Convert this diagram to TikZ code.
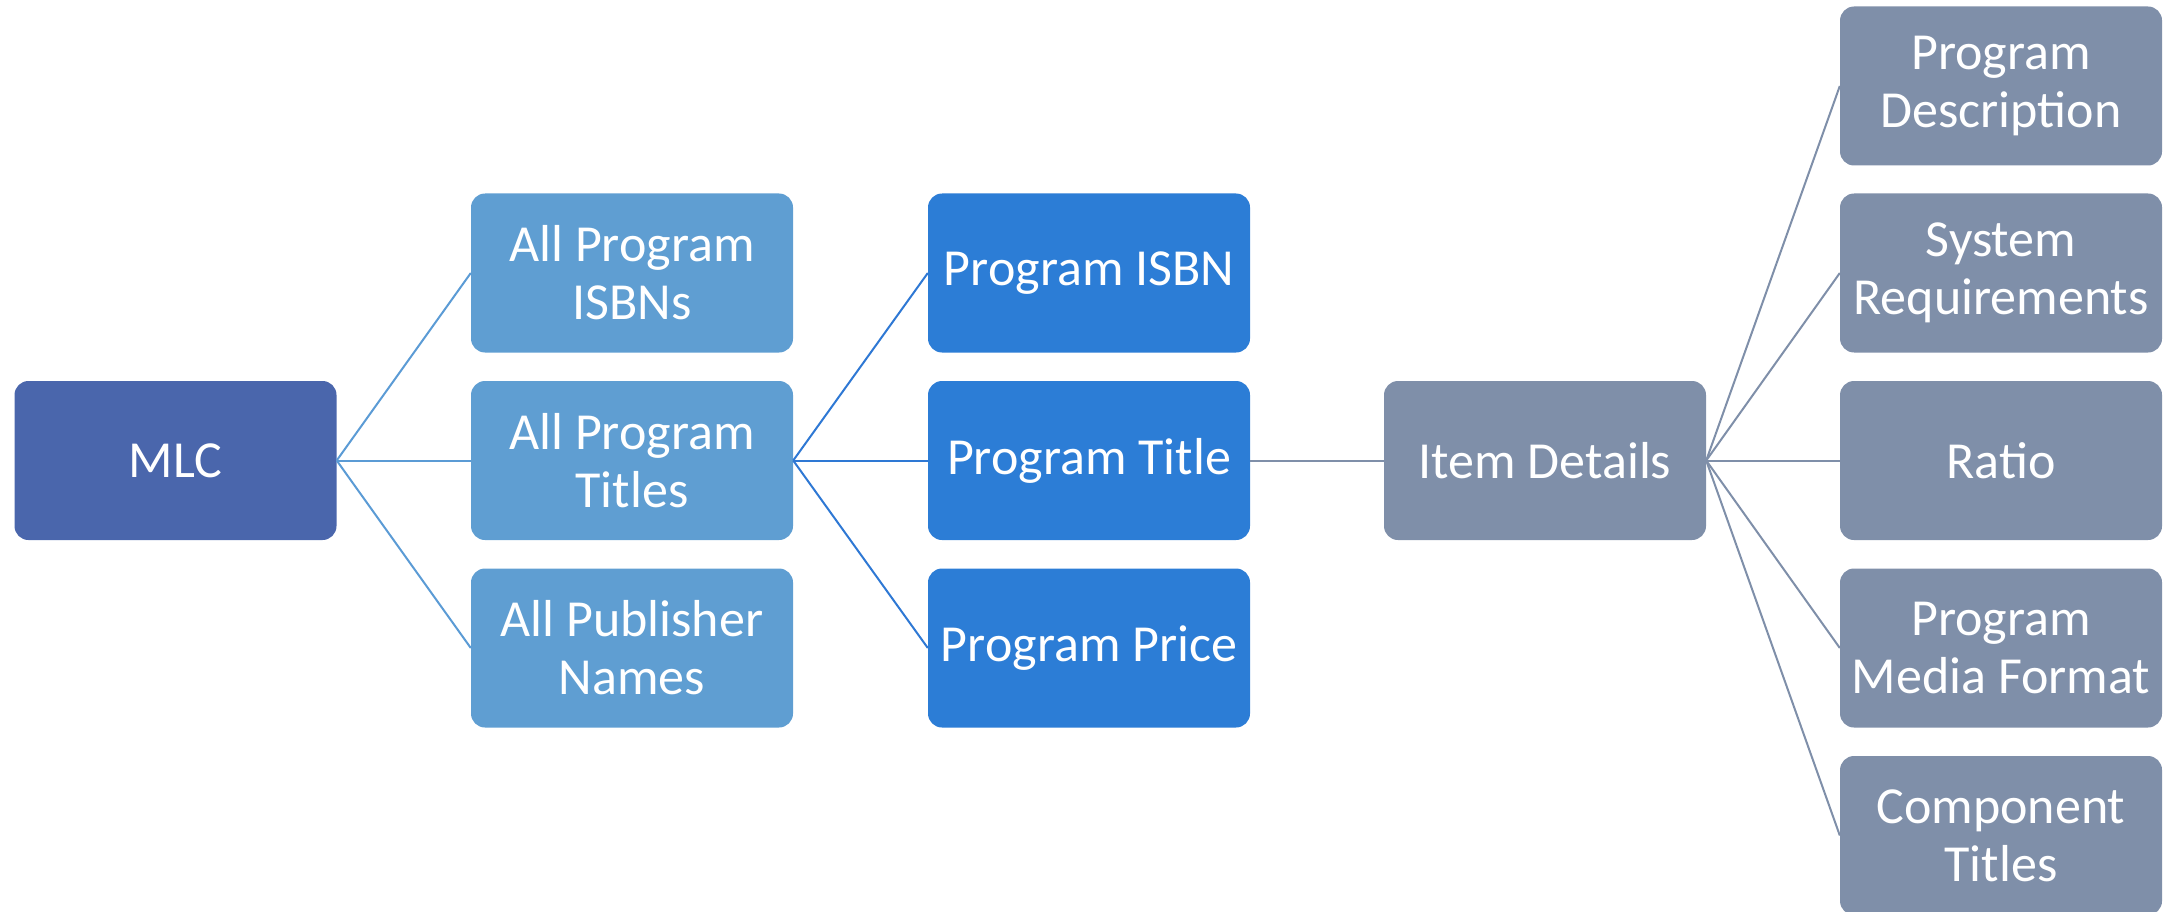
\documentclass[tikz,border=0pt]{standalone}
\usepackage{fontspec}
\setmainfont{Carlito}
\definecolor{cmlc}{HTML}{4A66AC}
\definecolor{clvl}{HTML}{5F9ED2}
\definecolor{cmid}{HTML}{2C7DD6}
\definecolor{cgray}{HTML}{7F8FA9}
\definecolor{lnA}{HTML}{5B9BD5}
\definecolor{lnB}{HTML}{2E78D4}
\tikzset{
  box/.style={rectangle, rounded corners=14pt, minimum width=322pt, minimum height=159pt,
    text=white, align=center, inner sep=2pt, font=\fontsize{52}{58}\selectfont},
  bmlc/.style={box, fill=cmlc},
  blvl/.style={box, fill=clvl},
  bmid/.style={box, fill=cmid},
  bgray/.style={box, fill=cgray},
  conn/.style={line width=2pt}
}
\begin{document}
\begin{tikzpicture}[x=1pt,y=-1pt]
\useasboundingbox (0,0) rectangle (2175,912);
\node[bmlc] (mlc) at (175.5,460.5) {MLC};
\node[blvl] (isbns) at (632,273) {All Program\\ISBNs};
\node[blvl] (titles) at (632,460.5) {All Program\\Titles};
\node[blvl] (pubs) at (632,648) {All Publisher\\Names};
\node[bmid] (pisbn) at (1089,273) {Program ISBN};
\node[bmid] (ptitle) at (1089,460.5) {Program Title};
\node[bmid] (pprice) at (1089,648) {Program Price};
\node[bgray] (item) at (1545,460.5) {Item Details};
\node[bgray] (desc) at (2001,86) {Program\\Description};
\node[bgray] (sysreq) at (2001,273) {System\\Requirements};
\node[bgray] (ratio) at (2001,460.5) {Ratio};
\node[bgray] (media) at (2001,648) {Program\\Media Format};
\node[bgray] (comp) at (2001,835.5) {Component\\Titles};
\draw[conn, lnA] (mlc.east) -- (isbns.west);
\draw[conn, lnA] (mlc.east) -- (titles.west);
\draw[conn, lnA] (mlc.east) -- (pubs.west);
\draw[conn, lnB] (titles.east) -- (pisbn.west);
\draw[conn, lnB] (titles.east) -- (ptitle.west);
\draw[conn, lnB] (titles.east) -- (pprice.west);
\draw[conn, cgray] (ptitle.east) -- (item.west);
\draw[conn, cgray] (item.east) -- (desc.west);
\draw[conn, cgray] (item.east) -- (sysreq.west);
\draw[conn, cgray] (item.east) -- (ratio.west);
\draw[conn, cgray] (item.east) -- (media.west);
\draw[conn, cgray] (item.east) -- (comp.west);
\end{tikzpicture}
\end{document}
